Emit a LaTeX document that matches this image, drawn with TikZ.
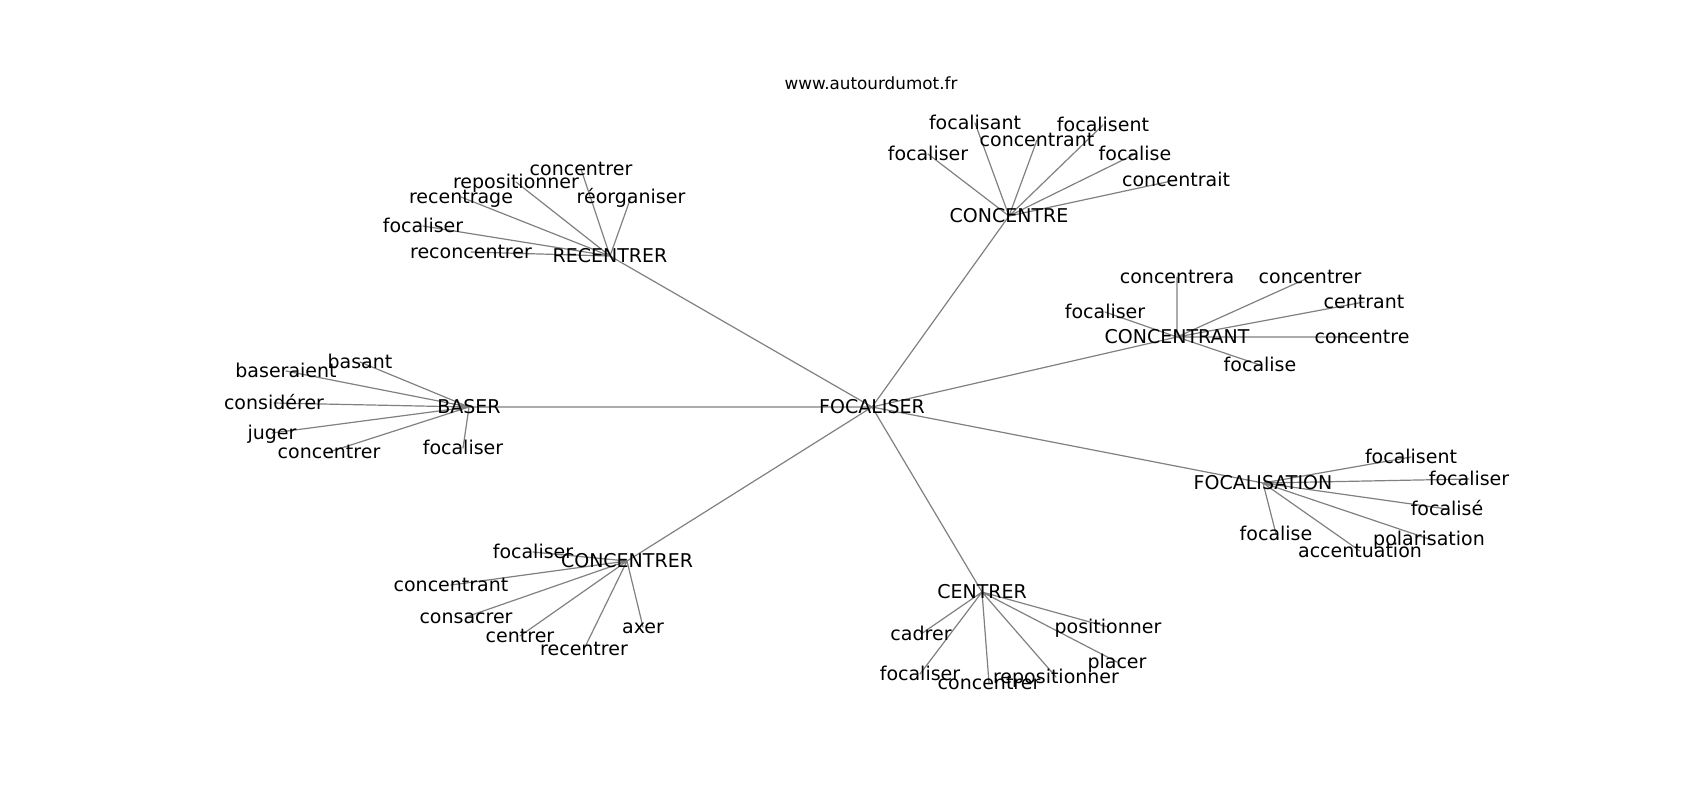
\documentclass[tikz,border=0pt]{standalone}
\usepackage{fontspec}
\setmainfont{DejaVu Sans}
\usepackage{xcolor}
\usepackage{tikz}
\definecolor{ink}{HTML}{000000}
\definecolor{wire}{HTML}{808080}
\pgfdeclarelayer{back}
\pgfsetlayers{back,main}
\tikzset{
  link/.style={draw=wire, line width=0.6pt, line cap=round},
  word/.style={text=ink, inner sep=0pt, font=\fontsize{9.5}{11}\selectfont, text height=7.1pt, text depth=0.5pt},
  site/.style={text=ink, inner sep=0pt, font=\fontsize{8.4}{10}\selectfont},
}

\begin{document}
\begin{tikzpicture}[x=0.5pt, y=-0.5pt]
  \useasboundingbox (0,0) rectangle (1700,800);

  \node[site] (T) at (871,83) {www.autourdumot.fr};

  % hubs
  \node[word] (F)  at (872,407)  {FOCALISER};
  \node[word] (Ba) at (469,407)  {BASER};
  \node[word] (Re) at (610,256)  {RECENTRER};
  \node[word] (Ce) at (1009,216) {CONCENTRE};
  \node[word] (Ct) at (1177,337) {CONCENTRANT};
  \node[word] (Fn) at (1263,483) {FOCALISATION};
  \node[word] (Cn) at (982,592)  {CENTRER};
  \node[word] (Cr) at (627,561)  {CONCENTRER};

  % RECENTRER
  \node[word] (Re1) at (581,169) {concentrer};
  \node[word] (Re2) at (516,182) {repositionner};
  \node[word] (Re3) at (461,197) {recentrage};
  \node[word] (Re4) at (631,197) {réorganiser};
  \node[word] (Re5) at (423,226) {focaliser};
  \node[word] (Re6) at (471,252) {reconcentrer};

  % CONCENTRE
  \node[word] (Ce1) at (975,123)  {focalisant};
  \node[word] (Ce2) at (1103,125) {focalisent};
  \node[word] (Ce3) at (1037,140) {concentrant};
  \node[word] (Ce4) at (928,154)  {focaliser};
  \node[word] (Ce5) at (1135,154) {focalise};
  \node[word] (Ce6) at (1176,180) {concentrait};

  % CONCENTRANT
  \node[word] (Ct1) at (1177,277) {concentrera};
  \node[word] (Ct2) at (1310,277) {concentrer};
  \node[word] (Ct3) at (1364,302) {centrant};
  \node[word] (Ct4) at (1105,312) {focaliser};
  \node[word] (Ct5) at (1362,337) {concentre};
  \node[word] (Ct6) at (1260,365) {focalise};

  % BASER
  \node[word] (Ba1) at (360,362) {basant};
  \node[word] (Ba2) at (286,371) {baseraient};
  \node[word] (Ba3) at (274,403) {considérer};
  \node[word] (Ba4) at (272,433) {juger};
  \node[word] (Ba5) at (329,452) {concentrer};
  \node[word] (Ba6) at (463,448) {focaliser};

  % FOCALISATION
  \node[word] (Fn1) at (1411,457) {focalisent};
  \node[word] (Fn2) at (1469,479) {focaliser};
  \node[word] (Fn3) at (1447,509) {focalisé};
  \node[word] (Fn4) at (1276,534) {focalise};
  \node[word] (Fn5) at (1429,539) {polarisation};
  \node[word] (Fn6) at (1360,551) {accentuation};

  % CONCENTRER
  \node[word] (Cr1) at (533,552) {focaliser};
  \node[word] (Cr2) at (451,585) {concentrant};
  \node[word] (Cr3) at (466,617) {consacrer};
  \node[word] (Cr4) at (520,636) {centrer};
  \node[word] (Cr5) at (584,649) {recentrer};
  \node[word] (Cr6) at (643,627) {axer};

  % CENTRER
  \node[word] (Cn1) at (921,634)  {cadrer};
  \node[word] (Cn2) at (1108,627) {positionner};
  \node[word] (Cn3) at (920,674)  {focaliser};
  \node[word] (Cn4) at (1117,662) {placer};
  \node[word] (Cn5) at (989,683)  {concentrer};
  \node[word] (Cn6) at (1056,677) {repositionner};

  \begin{pgfonlayer}{back}
    \draw[link] (F.center)--(Ba.center) (F.center)--(Re.center) (F.center)--(Ce.center)
      (F.center)--(Ct.center) (F.center)--(Fn.center) (F.center)--(Cn.center) (F.center)--(Cr.center);
    \draw[link] (Re.center)--(Re1.center) (Re.center)--(Re2.center) (Re.center)--(Re3.center)
      (Re.center)--(Re4.center) (Re.center)--(Re5.center) (Re.center)--(Re6.center);
    \draw[link] (Ce.center)--(Ce1.center) (Ce.center)--(Ce2.center) (Ce.center)--(Ce3.center)
      (Ce.center)--(Ce4.center) (Ce.center)--(Ce5.center) (Ce.center)--(Ce6.center);
    \draw[link] (Ct.center)--(Ct1.center) (Ct.center)--(Ct2.center) (Ct.center)--(Ct3.center)
      (Ct.center)--(Ct4.center) (Ct.center)--(Ct5.center) (Ct.center)--(Ct6.center);
    \draw[link] (Ba.center)--(Ba1.center) (Ba.center)--(Ba2.center) (Ba.center)--(Ba3.center)
      (Ba.center)--(Ba4.center) (Ba.center)--(Ba5.center) (Ba.center)--(Ba6.center);
    \draw[link] (Fn.center)--(Fn1.center) (Fn.center)--(Fn2.center) (Fn.center)--(Fn3.center)
      (Fn.center)--(Fn4.center) (Fn.center)--(Fn5.center) (Fn.center)--(Fn6.center);
    \draw[link] (Cr.center)--(Cr1.center) (Cr.center)--(Cr2.center) (Cr.center)--(Cr3.center)
      (Cr.center)--(Cr4.center) (Cr.center)--(Cr5.center) (Cr.center)--(Cr6.center);
    \draw[link] (Cn.center)--(Cn1.center) (Cn.center)--(Cn2.center) (Cn.center)--(Cn3.center)
      (Cn.center)--(Cn4.center) (Cn.center)--(Cn5.center) (Cn.center)--(Cn6.center);
  \end{pgfonlayer}
\end{tikzpicture}
\end{document}
